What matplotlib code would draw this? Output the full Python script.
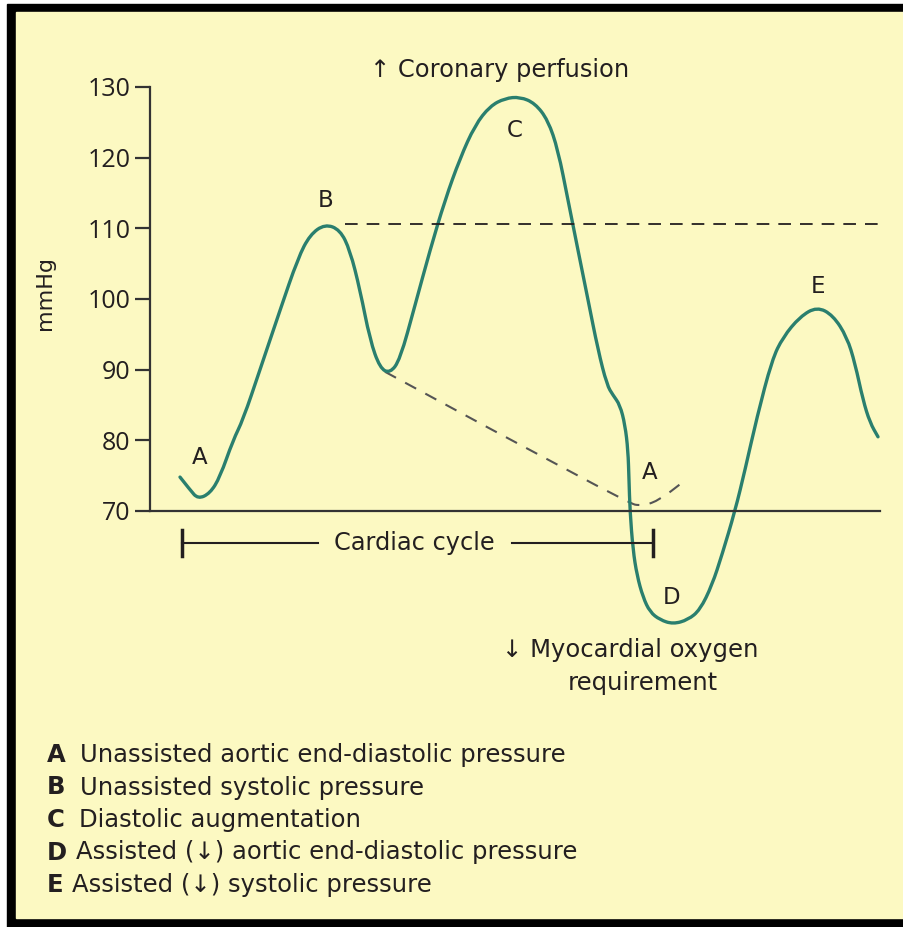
import numpy as np
import matplotlib
matplotlib.use('Agg')
import matplotlib.pyplot as plt
from matplotlib.patches import Rectangle, PathPatch
from matplotlib.path import Path

# aortic pressure trace (time in arbitrary units, mmHg)
time = [30, 40, 48, 60, 70, 83, 93, 110, 130, 148, 160, 175, 190, 200, 210, 220,
        230, 240, 250, 265, 280, 295, 310, 325, 340, 355, 370, 385, 398, 408, 418,
        428, 438, 448, 457, 463, 470, 475, 478, 479, 480, 483, 487, 493, 500, 510,
        523, 538, 550, 562, 572, 585, 595, 607, 622, 633, 650, 667, 683, 697, 705,
        713, 720, 728]
pressure = [74.8, 73.0, 71.7, 72.5, 74.8, 80.0, 82.9, 90.0, 98.4, 105.8, 109.1,
            110.6, 109.8, 106.9, 101.3, 94.2, 90.2, 89.5, 91.4, 99.1, 106.9, 114.0,
            119.9, 124.6, 127.3, 128.4, 128.6, 127.7, 125.3, 121.1, 114.0, 106.9,
            99.9, 92.8, 87.8, 86.4, 85.0, 82.2, 78.6, 74.4, 70.0, 64.5, 60.9, 57.8,
            55.7, 54.6, 54.0, 54.6, 56.0, 59.5, 63.8, 70.0, 75.8, 83.3, 91.4, 94.6,
            97.5, 98.9, 97.7, 94.6, 90.9, 85.7, 82.5, 80.5]

# unassisted decay (dashed)
decay_t = [235, 477, 493, 510, 532]
decay_p = [89.7, 71.1, 70.7, 71.6, 74.0]
systolic_ref = 110.6

yticks = [70, 80, 90, 100, 110, 120, 130]
point_labels = ['A', 'B', 'C', 'A', 'D', 'E']
label_t = [50, 176, 365, 500, 522, 668]
label_p = [77.6, 114.0, 123.9, 75.5, 57.8, 101.7]

legend_keys = ['A', 'B', 'C', 'D', 'E']
legend_text = ['Unassisted aortic end-diastolic pressure',
               'Unassisted systolic pressure',
               'Diastolic augmentation',
               'Assisted (\u2193) aortic end-diastolic pressure',
               'Assisted (\u2193) systolic pressure']

W, H = 904, 927
GREEN = '#2a7f6e'
INK = '#231f20'
BG = '#fcf9c2'
FONT = ['DejaVu Sans']
TICKFONT = ['Open Sans', 'DejaVu Sans']

fig = plt.figure(figsize=(W / 100, H / 100), dpi=100, facecolor='white')

def px(x, y):
    return x / W, 1 - y / H

def smooth_path(xs, ys):
    # quadratic bezier through midpoints, the read points act as control points
    pts = list(zip(xs, ys))
    verts = [pts[0]]
    codes = [Path.MOVETO]
    for i in range(1, len(pts) - 1):
        mid = ((pts[i][0] + pts[i + 1][0]) / 2, (pts[i][1] + pts[i + 1][1]) / 2)
        verts += [pts[i], mid]
        codes += [Path.CURVE3, Path.CURVE3]
    verts.append(pts[-1])
    codes.append(Path.LINETO)
    return Path(verts, codes)

# frame
fig.patches.append(Rectangle(px(7, 927), 1.0, (927 - 4) / H,
                             transform=fig.transFigure, color='black', zorder=-10))
fig.patches.append(Rectangle(px(16, 918), 1.0, (918 - 12) / H,
                             transform=fig.transFigure, color=BG, zorder=-9))

y_top, y_base = 87, 511
ppu = (y_base - y_top) / 60.0
y_bottom = y_base + 20 * ppu
ax = fig.add_axes([150 / W, (H - y_bottom) / H, 730 / W, (y_bottom - y_top) / H])
ax.patch.set_visible(False)
ax.set_xlim(0, 730)
ax.set_ylim(50, 130)
for s in ['top', 'right', 'bottom']:
    ax.spines[s].set_visible(False)
ax.spines['left'].set_bounds(70, 130)
ax.spines['left'].set_color('#333333')
ax.spines['left'].set_linewidth(1.6)
ax.set_xticks([])
ax.set_yticks(yticks)
ax.tick_params(axis='y', length=11, width=1.6, color='#333333', labelsize=18,
               labelcolor=INK, pad=3)
for lab in ax.get_yticklabels():
    lab.set_fontfamily(TICKFONT)
ax.text(-105, 100.8, 'mmHg', rotation=90, ha='center', va='center', fontsize=16,
        family=FONT, color=INK)

ax.plot([0, 730], [70, 70], color='#333333', lw=1.6, clip_on=False)
ax.plot([195, 735], [systolic_ref, systolic_ref], color=INK, lw=1.3,
        dashes=(7, 5), clip_on=False)
ax.add_patch(PathPatch(smooth_path(decay_t, decay_p), fill=False, edgecolor='#555555',
                       lw=1.5, linestyle=(0, (6, 5)), clip_on=False))
ax.add_patch(PathPatch(smooth_path(time, pressure), fill=False, edgecolor=GREEN,
                       lw=2.4, capstyle='round', joinstyle='round', clip_on=False))

for s, t, p in zip(point_labels, label_t, label_p):
    ax.text(t, p, s, ha='center', va='center', fontsize=16.5, family=FONT, color=INK)

# cardiac cycle bar
ax.plot([32, 168], [65.5, 65.5], color=INK, lw=1.5, clip_on=False)
ax.plot([362, 503], [65.5, 65.5], color=INK, lw=1.5, clip_on=False)
ax.plot([32, 32], [63.7, 67.3], color=INK, lw=2.5, clip_on=False)
ax.plot([503, 503], [63.7, 67.3], color=INK, lw=2.5, clip_on=False)
ax.text(264, 65.5, 'Cardiac cycle', ha='center', va='center', fontsize=17.3,
        family=FONT, color=INK)

fig.text(*px(500, 70), '\u2191 Coronary perfusion', ha='center', va='center',
         fontsize=17.4, family=FONT, color=INK)
fig.text(*px(630, 650), '\u2193 Myocardial oxygen', ha='center', va='center',
         fontsize=17.5, family=FONT, color=INK)
fig.text(*px(643, 683), 'requirement', ha='center', va='center',
         fontsize=17.5, family=FONT, color=INK)

text_x = [80, 80, 79, 76, 72]
for i, (k, txt) in enumerate(zip(legend_keys, legend_text)):
    yy = 755 + i * 32.5
    fig.text(*px(47, yy), k, ha='left', va='center', fontsize=17.5,
             family=FONT, weight='bold', color=INK)
    fig.text(*px(text_x[i], yy), txt, ha='left', va='center', fontsize=17.5,
             family=FONT, color=INK)

fig.savefig('out.png', dpi=100, facecolor=fig.get_facecolor())
